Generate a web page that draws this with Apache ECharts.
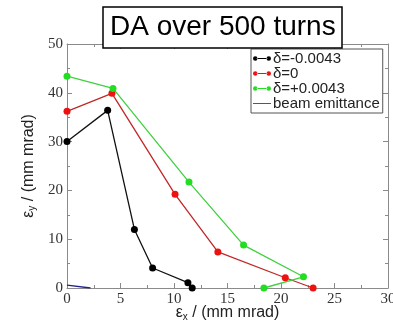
<!DOCTYPE html>
<html><head><meta charset="utf-8">
<script src="https://cdn.jsdelivr.net/npm/echarts@6/dist/echarts.min.js"></script>
<style>html,body{margin:0;padding:0;background:#fff}#c{width:393px;height:323px}</style>
</head><body><div id="c"></div>
<script>
const titleText = 'DA over 500 turns';
const seriesNames = ['δ=-0.0043', 'δ=0', 'δ=+0.0043', 'beam emittance'];
const xNeg = [0, 3.8, 6.3, 8.0, 11.3, 11.7];
const yNeg = [30, 36.4, 12, 4.1, 1.1, 0];
const xZero = [0, 4.2, 10.1, 14.1, 20.4, 23.0];
const yZero = [36.2, 39.9, 19.2, 7.4, 2.1, 0];
const xPos = [0, 4.3, 11.4, 16.5, 22.1, 18.4];
const yPos = [43.4, 40.9, 21.7, 8.8, 2.3, 0];
const xBeam = [0, 2.2];
const yBeam = [0.6, 0];
const xTicks = [0, 5, 10, 15, 20, 25, 30];
const yTicks = [0, 10, 20, 30, 40, 50];

const pair = (xs, ys) => xs.map((x, i) => [x, ys[i]]);
const dumbbell = 'path://M0,3a3,3 0 1,0 6,0a3,3 0 1,0 -6,0ZM5,2.4h14v1.2h-14ZM18,3a3,3 0 1,0 6,0a3,3 0 1,0 -6,0Z';
const bar = 'path://M0,2.4h24v1.2h-24Z';

const chart = echarts.init(document.getElementById('c'));
const serif = 'Liberation Serif';
const sans = 'Liberation Sans';
const gridC = '#8a8a8a';
function axisBase(show) {
  return {
    axisLine: { show: true, onZero: false, lineStyle: { color: gridC, width: 1 } },
    axisTick: { show: true, inside: true, length: 5, lineStyle: { color: gridC } },
    minorTick: { show: true, splitNumber: 2, length: 3, lineStyle: { color: gridC } },
    splitLine: { show: false },
    axisLabel: { show: show, fontFamily: serif, fontSize: 15, color: '#333', margin: 4,
      formatter: v => String(v) }
  };
}
const mk = (name, data, color, lineColor) => ({
  name, type: 'line', data, symbol: 'circle', symbolSize: 7,
  itemStyle: { color }, lineStyle: { color: lineColor, width: 1.3 },
  xAxisIndex: 0, yAxisIndex: 0, animation: false
});
chart.setOption({
  animation: false,
  title: {
    text: titleText, left: 103, top: 7,
    padding: [5, 7, 5, 7],
    borderColor: '#000', borderWidth: 1.5, backgroundColor: '#fff',
    textStyle: { fontFamily: sans, fontSize: 28, fontWeight: 'normal', color: '#000', lineHeight: 31 },
    z: 10
  },
  legend: {
    orient: 'vertical', left: 251, top: 49,
    padding: [2, 3, 2, 2], itemGap: 0,
    borderColor: '#555', borderWidth: 1, backgroundColor: '#fff',
    itemWidth: 18, itemHeight: 5,
    textStyle: { fontFamily: sans, fontSize: 15, color: '#222', lineHeight: 13.5, padding: [0, 0, 0, -3] },
    data: [
      { name: seriesNames[0], icon: dumbbell },
      { name: seriesNames[1], icon: dumbbell },
      { name: seriesNames[2], icon: dumbbell },
      { name: seriesNames[3], icon: bar }
    ],
    z: 10
  },
  grid: { left: 67, right: 5, top: 44, bottom: 35, show: false, outerBoundsMode: 'none', containLabel: false },
  xAxis: [
    Object.assign(axisBase(true), {
      type: 'value', min: 0, max: 30, interval: 5, position: 'bottom',
      name: '{e|ε}{s|x}{n| / (mm mrad)}', nameLocation: 'middle', nameGap: 16, nameMoveOverlap: false,
      nameTextStyle: { rich: {
        e: { fontFamily: sans, fontSize: 16, color: '#222' },
        s: { fontFamily: sans, fontSize: 10, color: '#222', verticalAlign: 'bottom', padding: [8, 0, 0, 0] },
        n: { fontFamily: sans, fontSize: 16, color: '#222' }
      } }
    }),
    Object.assign(axisBase(false), { type: 'value', min: 0, max: 30, interval: 5, position: 'top' })
  ],
  yAxis: [
    Object.assign(axisBase(true), {
      type: 'value', min: 0, max: 50, interval: 10, position: 'left',
      name: '{e|ε}{s|y}{n| / (mm mrad)}', nameLocation: 'middle', nameGap: 24,
      nameTextStyle: { rich: {
        e: { fontFamily: sans, fontSize: 16, color: '#222' },
        s: { fontFamily: sans, fontSize: 10, color: '#222', verticalAlign: 'bottom', padding: [8, 0, 0, 0] },
        n: { fontFamily: sans, fontSize: 16, color: '#222' }
      } }
    }),
    Object.assign(axisBase(false), { type: 'value', min: 0, max: 50, interval: 10, position: 'right' })
  ],
  series: [
    mk(seriesNames[0], pair(xNeg, yNeg), '#000', '#111'),
    mk(seriesNames[1], pair(xZero, yZero), '#ee1111', '#c02828'),
    mk(seriesNames[2], pair(xPos, yPos), '#22dd22', '#40d040'),
    { name: seriesNames[3], type: 'line', data: pair(xBeam, yBeam), symbol: 'none',
      itemStyle: { color: '#3a3aa0' }, lineStyle: { color: '#22228a', width: 1.3 }, animation: false }
  ]
});
</script></body></html>
